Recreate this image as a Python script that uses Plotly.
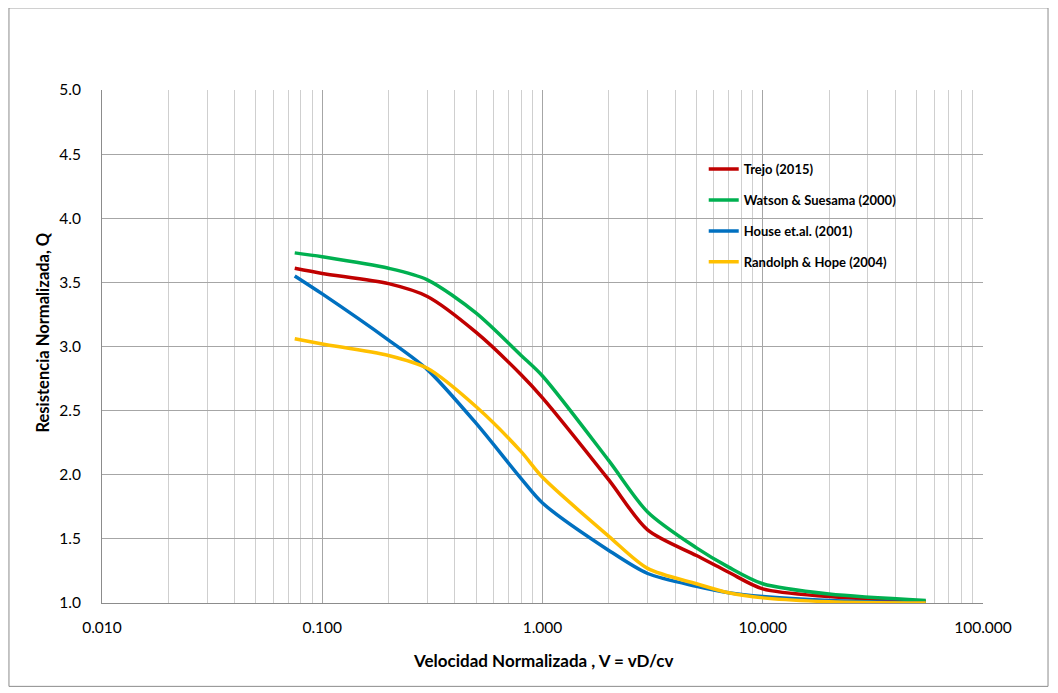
import plotly.graph_objects as go

# Data
v_norm = [0.075, 0.1, 0.2, 0.3, 0.5, 0.8, 1.0, 2.0, 3.0, 5.0, 7.0, 10.0, 20.0, 55.0]
trejo_2015 = [3.61, 3.57, 3.49, 3.39, 3.11, 2.78, 2.60, 1.96, 1.57, 1.37, 1.24, 1.11, 1.05, 1.01]
watson_2000 = [3.73, 3.70, 3.61, 3.52, 3.26, 2.93, 2.77, 2.11, 1.71, 1.43, 1.28, 1.15, 1.07, 1.02]
house_2001 = [3.55, 3.41, 3.05, 2.82, 2.40, 1.97, 1.78, 1.41, 1.23, 1.13, 1.08, 1.05, 1.02, 1.00]
randolph_2004 = [3.06, 3.02, 2.93, 2.83, 2.53, 2.18, 1.98, 1.52, 1.27, 1.15, 1.08, 1.04, 1.01, 1.00]

series_names = ["Trejo (2015)", "Watson & Suesama (2000)", "House et.al. (2001)", "Randolph & Hope (2004)"]
series_values = [trejo_2015, watson_2000, house_2001, randolph_2004]
series_colors = ["#C00000", "#00B050", "#0070C0", "#FFC000"]

x_tick_vals = [0.01, 0.1, 1, 10, 100]
x_tick_text = ["0.010", "0.100", "1.000", "10.000", "100.000"]
x_minor_vals = [m * d for d in [0.01, 0.1, 1, 10] for m in range(2, 10)]

x_title = "<b>Velocidad Normalizada , V = vD/cv</b>"
y_title = "<b>Resistencia Normalizada, Q</b>"

FONT = "Lato"

fig = go.Figure()
for i, (name, vals, col) in enumerate(zip(series_names, series_values, series_colors)):
    fig.add_trace(go.Scatter(
        x=v_norm, y=vals, name=name, mode="lines",
        line=dict(color=col, width=3.5, shape="spline", smoothing=0.8),
        legendgroup=f"g{i}",
    ))

fig.update_layout(
    width=1058, height=693,
    margin=dict(l=94, r=83, t=82, b=98),
    paper_bgcolor="white", plot_bgcolor="white",
    font=dict(family=FONT, color="#000000", size=15),
    showlegend=True,
    legend=dict(
        x=0.683, y=0.875, xanchor="left", yanchor="top",
        bgcolor="rgba(255,255,255,0)", borderwidth=0,
        font=dict(family=FONT, size=13, color="#000000", weight="bold"),
        traceorder="grouped", tracegroupgap=11,
        itemwidth=30,
    ),
    xaxis=dict(
        type="log", range=[-2, 2],
        tickvals=x_tick_vals, ticktext=x_tick_text,
        showgrid=True, gridcolor="#A6A6A6", gridwidth=1,
        minor=dict(tickvals=x_minor_vals, showgrid=True, gridcolor="#CFCFCF", gridwidth=1, ticks=""),
        showline=True, linecolor="#8C8C8C", linewidth=1,
        ticks="", ticklabelstandoff=10,
        zeroline=False,
        tickfont=dict(size=15.5),
    ),
    yaxis=dict(
        range=[1, 5], dtick=0.5, tick0=1, tickformat=".1f",
        showgrid=True, gridcolor="#A6A6A6", gridwidth=1,
        showline=True, linecolor="#8C8C8C", linewidth=1,
        ticks="", ticklabelstandoff=17,
        zeroline=False,
        tickfont=dict(size=15.5),
    ),
    annotations=[
        dict(text=x_title, xref="paper", yref="paper", x=0.5, y=-0.112,
             xanchor="center", yanchor="middle", showarrow=False,
             font=dict(family=FONT, size=17, color="#000000")),
        dict(text=y_title, xref="paper", yref="paper", x=-0.0665, y=0.528,
             xanchor="center", yanchor="middle", showarrow=False, textangle=-90,
             font=dict(family=FONT, size=16.5, color="#000000")),
    ],
    shapes=[
        dict(type="rect", xref="paper", yref="paper",
             x0=-0.1056, x1=1.0738, y0=-0.1625, y1=1.16,
             line=dict(color="#8C8C8C", width=1), fillcolor="rgba(0,0,0,0)", layer="below"),
        dict(type="rect", xref="paper", yref="paper",
             x0=0.645, x1=0.943, y0=0.628, y1=0.879,
             line=dict(width=0), fillcolor="white", layer="between"),
    ],
)

fig.write_html("out.html")
